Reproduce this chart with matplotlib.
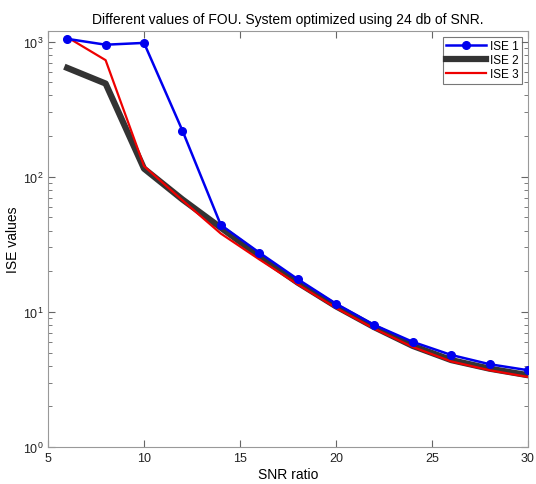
import matplotlib
matplotlib.use("Agg")
import matplotlib.pyplot as plt
from matplotlib.ticker import LogLocator, NullFormatter, FixedLocator

snr = [6, 8, 10, 12, 14, 16, 18, 20, 22, 24, 26, 28, 30]
ise1 = [1050, 950, 980, 220, 44, 27.5, 17.5, 11.5, 8.0, 6.0, 4.8, 4.1, 3.7]
ise2 = [640, 490, 115, 68, 42, 26, 16.5, 11.0, 7.7, 5.6, 4.4, 3.8, 3.4]
ise3 = [1080, 730, 120, 67, 38, 24.5, 16.0, 10.7, 7.5, 5.5, 4.3, 3.7, 3.3]

plt.rcParams['font.family'] = ['Liberation Sans', 'DejaVu Sans']
fig = plt.figure(figsize=(5.36, 4.85), dpi=100)
ax = fig.add_axes([0.0896, 0.0763, 0.8954, 0.8577])
ax.plot(snr, ise1, color="#0000ee", lw=1.8, marker="o", ms=5.5, label="ISE 1", zorder=3)
ax.plot(snr, ise2, color="#333333", lw=4.5, label="ISE 2", zorder=1)
ax.plot(snr, ise3, color="#ee0000", lw=1.6, label="ISE 3", zorder=2)
ax.set_yscale("log")
ax.set_xlim(5, 30)
ax.set_ylim(1, 1200)
ax.xaxis.set_major_locator(FixedLocator([5, 10, 15, 20, 25, 30]))
ax.yaxis.set_major_locator(LogLocator(base=10, numticks=10))
ax.yaxis.set_minor_locator(LogLocator(base=10, subs=range(2, 10), numticks=10))
ax.yaxis.set_minor_formatter(NullFormatter())
ax.tick_params(which="both", direction="in", top=True, right=True, colors="#666666", labelcolor="#222222", labelsize=9)
ax.tick_params(which="major", length=5)
ax.tick_params(which="minor", length=3)
for s in ax.spines.values():
    s.set_color("#999999")
ax.set_xlabel("SNR ratio", fontsize=10, labelpad=2)
ax.set_ylabel("ISE values", fontsize=10, labelpad=2)
ax.set_title("Different values of FOU. System optimized using 24 db of SNR.", fontsize=10, pad=6)
leg = ax.legend(loc="upper right", fontsize=8.5, fancybox=False, edgecolor="#555555", handlelength=3.4,
                borderaxespad=0.5, labelspacing=0.15, borderpad=0.3, handletextpad=0.3)
leg.get_frame().set_linewidth(0.8)
fig.savefig("out.png", dpi=100)
